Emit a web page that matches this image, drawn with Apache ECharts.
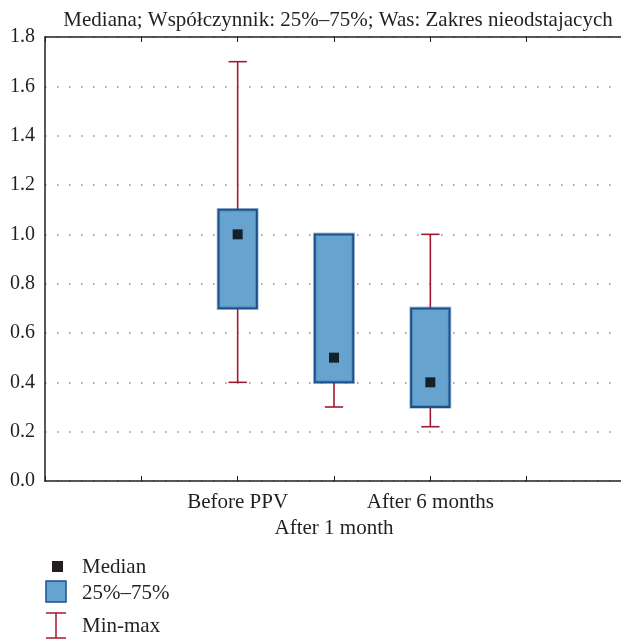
<!DOCTYPE html>
<html><head><meta charset="utf-8">
<script src="https://cdn.jsdelivr.net/npm/echarts@6/dist/echarts.min.js"></script>
<style>html,body{margin:0;padding:0;background:#fff}#c{width:621px;height:641px}</style>
</head><body><div id="c"></div>
<script>
const categories = ['Before PPV', 'After 1 month', 'After 6 months'];
const categoryPositions = [2, 3, 4];
const minValues = [0.4, 0.3, 0.22];
const q1Values = [0.7, 0.4, 0.3];
const medianValues = [1.0, 0.5, 0.4];
const q3Values = [1.1, 1.0, 0.7];
const maxValues = [1.7, 1.0, 1.0];
const titleText = 'Mediana; Współczynnik: 25%–75%; Was: Zakres nieodstajacych';
const legendLabels = ['Median', '25%–75%', 'Min-max'];

const FONT = 'Liberation Serif';
const TXT = '#231f20';
const BOX_FILL = '#67a3cf';
const BOX_EDGE = '#1b4f8b';
const WHISK = '#a11a2e';
const AX = '#231f20';

const boxData = categoryPositions.map((p, i) => [p, minValues[i], q1Values[i], medianValues[i], q3Values[i], maxValues[i]]);
const medianData = categoryPositions.map((p, i) => [p, medianValues[i]]);

const chart = echarts.init(document.getElementById('c'), null, {renderer: 'canvas'});
chart.setOption({
  animation: false,
  backgroundColor: '#fff',
  title: {text: titleText, left: 333, top: 5, textAlign: 'center',
    textStyle: {fontFamily: FONT, fontSize: 21, fontWeight: 'normal', color: TXT}},
  grid: {left: 45, width: 578, top: 37, height: 444, containLabel: false, outerBoundsMode: 'none', show: false},
  xAxis: [{
    type: 'value', min: 0, max: 6, interval: 1, position: 'bottom',
    axisLine: {show: true, onZero: false, lineStyle: {color: AX, width: 1.5}},
    axisTick: {show: true, inside: true, length: 5, lineStyle: {color: AX}},
    splitLine: {show: false},
    axisLabel: {
      fontFamily: FONT, fontSize: 21, color: TXT, margin: 8, lineHeight: 26,
      formatter: v => {
        const i = categoryPositions.indexOf(v);
        if (i < 0) return '';
        return (i % 2 === 1 ? '\n' : '') + categories[i];
      }
    }
  }, {
    type: 'value', min: 0, max: 6, interval: 1, position: 'top',
    axisLine: {show: true, onZero: false, lineStyle: {color: AX, width: 1.5}},
    axisTick: {show: true, inside: true, length: 5, lineStyle: {color: AX}},
    axisLabel: {show: false}, splitLine: {show: false}
  }],
  yAxis: [{
    type: 'value', min: 0, max: 1.8, interval: 0.2, position: 'left',
    axisLine: {show: true, onZero: false, lineStyle: {color: AX, width: 1.5}},
    axisTick: {show: false},
    axisLabel: {fontFamily: FONT, fontSize: 20, color: TXT, margin: 10, formatter: v => v.toFixed(1)},
    splitLine: {show: true, lineStyle: {color: '#8a8a8a', width: 1.5, type: [1.5, 10.5]}}
  }],
  series: [{
    type: 'custom', name: 'box',
    data: boxData,
    renderItem: (params, api) => {
      const x = api.value(0);
      const vmin = api.value(1), vq1 = api.value(2), vq3 = api.value(4), vmax = api.value(5);
      const w = api.size([0.4, 0])[0];
      const cap = api.size([0.19, 0])[0];
      const pMin = api.coord([x, vmin]), pQ1 = api.coord([x, vq1]), pQ3 = api.coord([x, vq3]), pMax = api.coord([x, vmax]);
      const cx = pMin[0];
      const ws = {stroke: WHISK, lineWidth: 1.6};
      const children = [];
      if (vmax > vq3) {
        children.push({type: 'line', shape: {x1: cx, y1: pMax[1], x2: cx, y2: pQ3[1]}, style: ws});
        children.push({type: 'line', shape: {x1: cx - cap / 2, y1: pMax[1], x2: cx + cap / 2, y2: pMax[1]}, style: ws});
      }
      if (vmin < vq1) {
        children.push({type: 'line', shape: {x1: cx, y1: pMin[1], x2: cx, y2: pQ1[1]}, style: ws});
        children.push({type: 'line', shape: {x1: cx - cap / 2, y1: pMin[1], x2: cx + cap / 2, y2: pMin[1]}, style: ws});
      }
      children.push({type: 'rect', shape: {x: cx - w / 2, y: pQ3[1], width: w, height: pQ1[1] - pQ3[1]},
        style: {fill: BOX_FILL, stroke: 'rgba(27,79,139,0.35)', lineWidth: 3.5}});
      children.push({type: 'rect', shape: {x: cx - w / 2, y: pQ3[1], width: w, height: pQ1[1] - pQ3[1]},
        style: {fill: 'none', stroke: BOX_EDGE, lineWidth: 1.8}});
      return {type: 'group', children};
    },
    z: 2
  }, {
    type: 'scatter', name: 'median', data: medianData,
    symbol: 'rect', symbolSize: 10,
    itemStyle: {color: '#000'}, z: 3
  }],
  graphic: [
    {type: 'rect', shape: {x: 52, y: 561, width: 11, height: 11}, style: {fill: '#231f20'}},
    {type: 'text', x: 82, y: 567, style: {text: legendLabels[0], font: '21px "' + FONT + '"', fill: TXT, verticalAlign: 'middle'}},
    {type: 'rect', shape: {x: 46, y: 581, width: 20, height: 21}, style: {fill: BOX_FILL, stroke: BOX_EDGE, lineWidth: 1.5}},
    {type: 'text', x: 82, y: 593, style: {text: legendLabels[1], font: '21px "' + FONT + '"', fill: TXT, verticalAlign: 'middle'}},
    {type: 'line', shape: {x1: 46, y1: 613, x2: 66, y2: 613}, style: {stroke: WHISK, lineWidth: 1.5}},
    {type: 'line', shape: {x1: 56, y1: 613, x2: 56, y2: 638}, style: {stroke: WHISK, lineWidth: 1.5}},
    {type: 'line', shape: {x1: 46, y1: 638, x2: 66, y2: 638}, style: {stroke: WHISK, lineWidth: 1.5}},
    {type: 'text', x: 82, y: 626, style: {text: legendLabels[2], font: '21px "' + FONT + '"', fill: TXT, verticalAlign: 'middle'}}
  ]
});
</script></body></html>
